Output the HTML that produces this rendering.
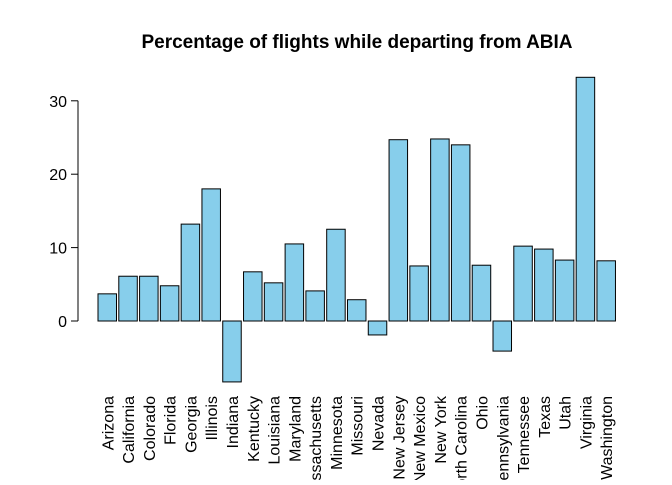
<!DOCTYPE html>
<html><head><meta charset="utf-8"><style>
body{margin:0;background:#fff}
svg text{font-family:"Liberation Sans",Arial,sans-serif}
</style></head><body>
<svg id="c" width="672" height="480" viewBox="0 0 672 480">
<text x="357" y="48" text-anchor="middle" font-size="19" font-weight="bold">Percentage of flights while departing from ABIA</text>
<g id="yaxis"></g>
<g id="bars"></g>
<g id="xlabels"></g>
</svg>
<script>
const categories=["Arizona","California","Colorado","Florida","Georgia","Illinois","Indiana","Kentucky","Louisiana","Maryland","Massachusetts","Minnesota","Missouri","Nevada","New Jersey","New Mexico","New York","North Carolina","Ohio","Pennsylvania","Tennessee","Texas","Utah","Virginia","Washington"];
const values=[3.7,6.1,6.1,4.8,13.2,18.0,-8.3,6.7,5.2,10.5,4.1,12.5,2.9,-1.9,24.7,7.5,24.8,24.0,7.6,-4.1,10.2,9.8,8.3,33.2,8.2];
const yTicks=[0,10,20,30];
const NS="http://www.w3.org/2000/svg";
const y0=321, pxPer=7.34;
function yScale(v){return y0-v*pxPer;}
const x0=98, step=20.79, bw=18.5;
function xScale(i){return x0+i*step;}
function mk(tag,attrs,parent){const e=document.createElementNS(NS,tag);for(const k in attrs)e.setAttribute(k,attrs[k]);parent.appendChild(e);return e;}
const ya=document.getElementById('yaxis');
const al=mk('line',{x1:78,x2:78,y1:yScale(yTicks[0]),y2:yScale(yTicks[yTicks.length-1]),stroke:'#000'},ya);


yTicks.forEach(t=>{
  const l=mk('line',{x1:71,x2:78,y1:yScale(t),y2:yScale(t),stroke:'#000'},ya);
  
  
  const tx=mk('text',{x:67,y:yScale(t)+6,'text-anchor':'end','font-size':'16'},ya);
  tx.textContent=t;
  
  
});
const bg=document.getElementById('bars'), xl=document.getElementById('xlabels');
values.forEach((v,i)=>{
  const x=xScale(i);
  const top=Math.min(yScale(v),yScale(0)), h=Math.abs(yScale(v)-yScale(0));
  const r=mk('rect',{x:x,y:top,width:bw,height:h,fill:'#87ceeb',stroke:'#000','stroke-width':1},bg);
  
  
  const cx=x+bw/2+6, cy=396;
  const t=mk('text',{x:cx,y:cy,'text-anchor':'end','font-size':'16',transform:`rotate(-90 ${cx} ${cy})`},xl);
  t.textContent=categories[i];
  
  
});
</script>
</body></html>
